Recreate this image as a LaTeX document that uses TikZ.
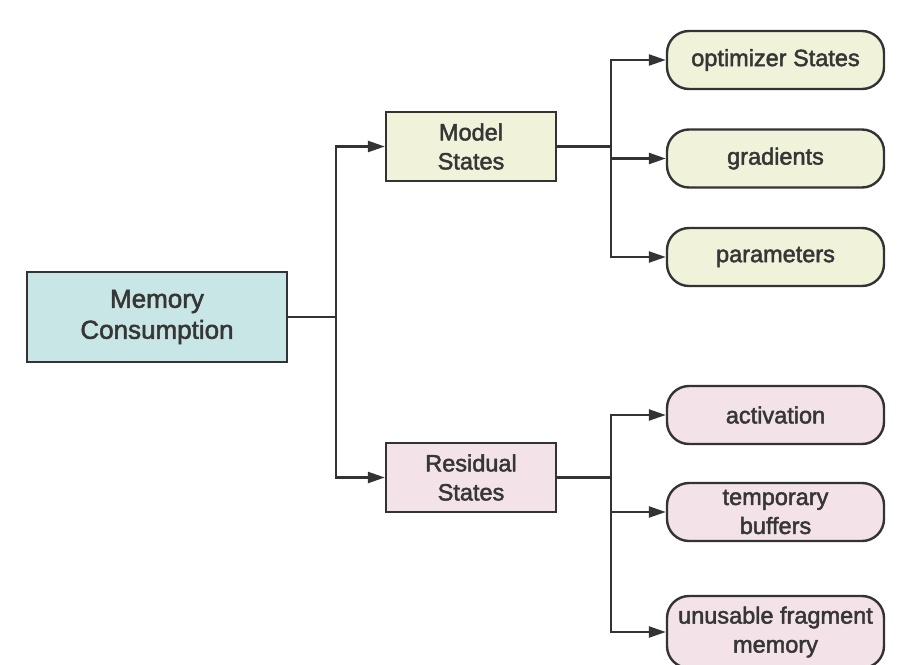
\documentclass[tikz,border=0pt]{standalone}
\usepackage{fontspec}
\setmainfont{Liberation Sans}
\newfontfamily\diagfont{Liberation Sans}[FakeBold=2]
\usetikzlibrary{arrows.meta}
\definecolor{edge}{HTML}{333333}
\definecolor{txt}{HTML}{363636}
\definecolor{teal}{HTML}{C9E6E6}
\definecolor{olive}{HTML}{F1F2DA}
\definecolor{pinkish}{HTML}{F3E3E8}
\tikzset{
  base/.style={draw=edge, line width=2.4pt, text=txt, align=center,
    font=\diagfont\fontsize{23.5}{29}\selectfont, inner sep=0pt},
  rootbox/.style={base, fill=teal, minimum width=260pt, minimum height=90pt,
    font=\diagfont\fontsize{26}{31}\selectfont},
  midbox/.style={base, minimum width=170pt, minimum height=69pt},
  leafbox/.style={base, rounded corners=22pt, minimum width=217pt, minimum height=58pt},
  link/.style={draw=edge, line width=2.4pt},
  arr/.style={link, -{Triangle[length=17pt,width=11pt]}}
}
\begin{document}
\begin{tikzpicture}[x=1pt,y=-1pt]
\fill[white] (0,0) rectangle (915,664);
\clip (0,0) rectangle (915,664);
\node[rootbox] (mc) at (157,317) {Memory\\Consumption};
\node[midbox, fill=olive] (ms) at (471,146.5) {Model\\States};
\node[midbox, fill=pinkish] (rs) at (471,477.5) {Residual\\States};
\node[leafbox, fill=olive] (opt) at (775.5,60) {optimizer States};
\node[leafbox, fill=olive] (grad) at (775.5,158.5) {gradients};
\node[leafbox, fill=olive] (par) at (775.5,257) {parameters};
\node[leafbox, fill=pinkish] (act) at (775.5,415) {activation};
\node[leafbox, fill=pinkish] (tmp) at (775.5,512) {temporary\\buffers};
\node[leafbox, fill=pinkish, minimum height=72pt] (unu) at (775.5,632) {unusable fragment\\memory};
\coordinate (j1) at (336,317);
\coordinate (j2) at (611,146.5);
\coordinate (j3) at (611,477.5);
\draw[link] (mc.east) -- (j1);
\draw[arr] (j1) |- (ms.west);
\draw[arr] (j1) |- (rs.west);
\draw[link] (ms.east) -- (j2);
\draw[arr] (j2) |- (opt.west);
\draw[arr] (j2) |- (grad.west);
\draw[arr] (j2) |- (par.west);
\draw[link] (rs.east) -- (j3);
\draw[arr] (j3) |- (act.west);
\draw[arr] (j3) |- (tmp.west);
\draw[arr] (j3) |- (unu.west);
\end{tikzpicture}
\end{document}
